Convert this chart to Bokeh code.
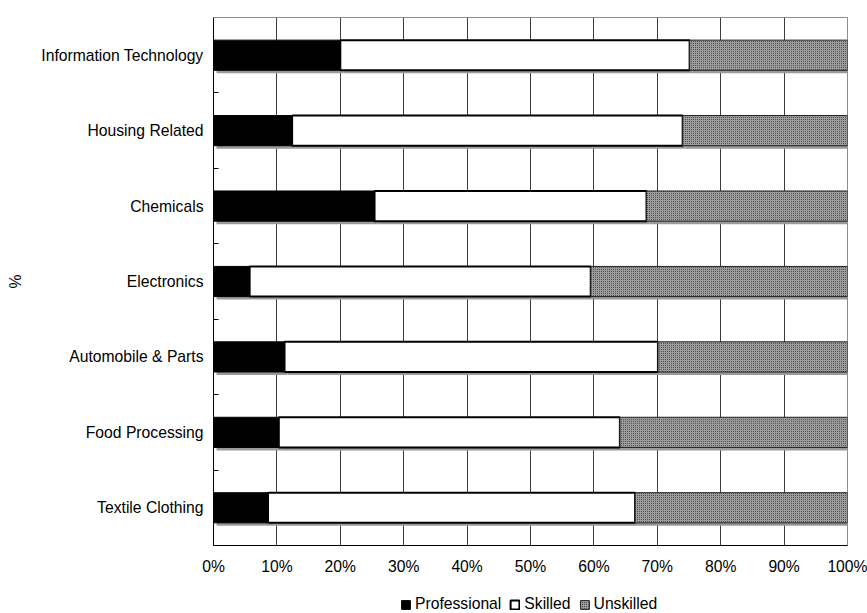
from bokeh.plotting import figure
from bokeh.layouts import column
from bokeh.models import (ColumnDataSource, FixedTicker, NumeralTickFormatter,
                          Range1d, Legend, LegendItem)
from bokeh.embed import file_html
from bokeh.resources import INLINE

# Share of workforce by skill level in each sector (%)
sectors = ["Information Technology", "Housing Related", "Chemicals", "Electronics",
           "Automobile & Parts", "Food Processing", "Textile Clothing"]
professional = [20.0, 12.4, 25.4, 5.7, 11.2, 10.3, 8.6]
skilled = [55.1, 61.6, 42.9, 53.8, 58.9, 53.8, 57.9]
unskilled = [24.9, 26.0, 31.7, 40.5, 29.9, 35.9, 33.5]
x_ticks = [0, 10, 20, 30, 40, 50, 60, 70, 80, 90, 100]

FONT = "Liberation Sans"
FS = "15.7px"

n = len(sectors)
ypos = [n - 0.5 - i for i in range(n)]  # first sector at the top

FRAME_W, FRAME_H = 634, 528
BAR_H = 0.4
# drop shadow offset, 3 px right and 3 px down, in data units
SH_X = 3.0 / FRAME_W
SH_Y = 3.0 * n / FRAME_H

p = figure(frame_width=FRAME_W, frame_height=FRAME_H,
           x_range=Range1d(0, 1), y_range=Range1d(0, n),
           output_backend="svg", toolbar_location=None,
           min_border_left=213, min_border_top=17, min_border_right=20,
           min_border_bottom=43)
p.background_fill_color = "white"
p.border_fill_color = "white"
p.outline_line_color = "#8c8c8c"
p.outline_line_width = 1

styles = [
    dict(fill_color="black", line_color="black", line_width=1),
    dict(fill_color="white", line_color="black", line_width=2),
    dict(fill_color="#9c9c9c", line_color="#222222", line_width=1,
         hatch_pattern=".", hatch_color="#3a3a3a", hatch_scale=2, hatch_weight=1),
]
series = [("Professional", professional), ("Skilled", skilled), ("Unskilled", unskilled)]

left = [0.0] * n
for (name, vals), style in zip(series, styles):
    right = [l + v / 100.0 for l, v in zip(left, vals)]
    shadow = ColumnDataSource(dict(y=[y - SH_Y for y in ypos],
                                   left=[l + SH_X for l in left],
                                   right=[r + SH_X for r in right]))
    p.hbar(y="y", left="left", right="right", height=BAR_H, source=shadow,
           fill_color="#9a9a9a", line_color=None)
    src = ColumnDataSource(dict(y=ypos, left=left, right=right))
    p.hbar(y="y", left="left", right="right", height=BAR_H, source=src, **style)
    left = right

# x axis: percentages with vertical grid lines
p.xaxis.ticker = FixedTicker(ticks=[t / 100.0 for t in x_ticks])
p.xaxis.formatter = NumeralTickFormatter(format="0%")
p.xaxis.major_tick_out = 0
p.xaxis.major_tick_in = 0
p.xaxis.minor_tick_out = 0
p.xaxis.minor_tick_in = 0
p.xaxis.axis_line_color = "black"
p.xaxis.major_label_standoff = 12
p.xaxis.major_label_text_font = FONT
p.xaxis.major_label_text_font_size = FS
p.xaxis.major_label_text_color = "black"
p.xgrid.grid_line_color = "#3c3c3c"
p.xgrid.grid_line_width = 1
p.ygrid.grid_line_color = None

# y axis: sector names at bar centres, small inward ticks between sectors
p.yaxis.ticker = FixedTicker(ticks=ypos, minor_ticks=list(range(1, n)))
p.yaxis.major_label_overrides = {y: s for y, s in zip(ypos, sectors)}
p.yaxis.major_tick_out = 0
p.yaxis.major_tick_in = 0
p.yaxis.minor_tick_in = 5
p.yaxis.minor_tick_out = 0
p.yaxis.minor_tick_line_color = "black"
p.yaxis.axis_line_color = "black"
p.yaxis.major_label_standoff = 10
p.yaxis.major_label_text_font = FONT
p.yaxis.major_label_text_font_size = FS
p.yaxis.major_label_text_color = "black"
p.yaxis.axis_label = "%"
p.yaxis.axis_label_text_font = FONT
p.yaxis.axis_label_text_font_size = FS
p.yaxis.axis_label_text_font_style = "normal"
p.yaxis.axis_label_text_color = "black"
p.yaxis.axis_label_standoff = 14

# legend strip under the chart; its swatch glyphs sit outside the visible range
lf = figure(frame_width=867, frame_height=25, x_range=Range1d(0, 1), y_range=Range1d(0, 1),
            x_axis_type=None, y_axis_type=None, output_backend="svg",
            toolbar_location=None, min_border=0)
lf.outline_line_color = None
lf.grid.visible = False
items = []
for (name, _), style in zip(series, styles):
    swatch = ColumnDataSource(dict(y=[5.0], left=[5.0], right=[6.0]))
    r = lf.hbar(y="y", left="left", right="right", height=0.5, source=swatch, **style)
    items.append(LegendItem(label=name, renderers=[r]))
legend = Legend(items=items, orientation="horizontal", location=(400, 0),
                glyph_width=11, glyph_height=11, label_standoff=4, spacing=8,
                padding=0, margin=0, border_line_color=None,
                background_fill_alpha=0,
                label_text_font=FONT, label_text_font_size=FS,
                label_text_color="black", label_height=12)
lf.add_layout(legend, "center")

open("out.html", "w").write(file_html(column(p, lf, spacing=0), INLINE))
